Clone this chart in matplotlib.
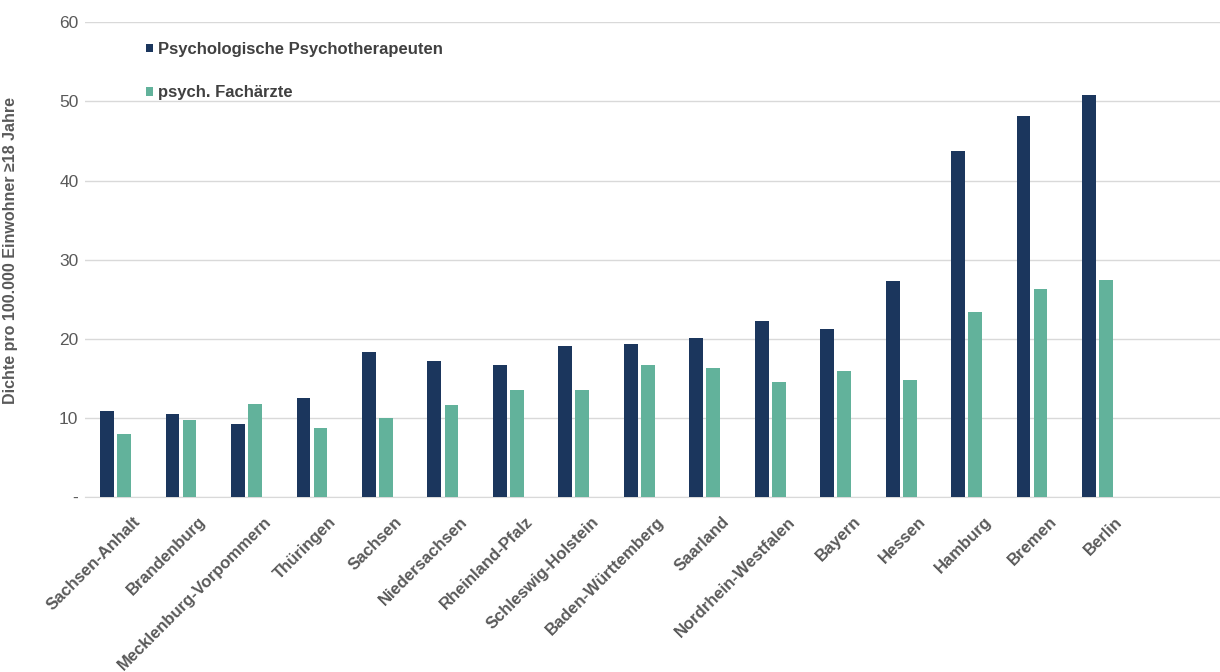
import matplotlib.pyplot as plt
import matplotlib.transforms as mtransforms
import numpy as np

plt.rcParams['font.family'] = ['Liberation Sans', 'DejaVu Sans']

laender = ['Sachsen-Anhalt', 'Brandenburg', 'Mecklenburg-Vorpommern', 'Thüringen',
           'Sachsen', 'Niedersachsen', 'Rheinland-Pfalz', 'Schleswig-Holstein',
           'Baden-Württemberg', 'Saarland', 'Nordrhein-Westfalen', 'Bayern',
           'Hessen', 'Hamburg', 'Bremen', 'Berlin']
psychotherapeuten = [10.9, 10.5, 9.3, 12.6, 18.3, 17.2, 16.7, 19.1,
                     19.4, 20.1, 22.2, 21.2, 27.3, 43.7, 48.2, 50.8]
fachaerzte = [8.0, 9.7, 11.8, 8.8, 10.0, 11.6, 13.5, 13.5,
              16.7, 16.3, 14.6, 15.9, 14.8, 23.4, 26.3, 27.5]
yticks = [0, 10, 20, 30, 40, 50, 60]
ytick_labels = ['-', '10', '20', '30', '40', '50', '60']

dark = '#1b365d'
green = '#62b29b'
grey = '#595959'

fig = plt.figure(figsize=(12.2, 6.72), dpi=100)
ax = fig.add_axes([0.07, 0.26, 0.93, 0.707])

x = np.arange(len(laender))
w = 0.21
ax.bar(x - w / 2 - 0.025, psychotherapeuten, w, color=dark,
       label='Psychologische Psychotherapeuten', zorder=3)
ax.bar(x + w / 2 + 0.025, fachaerzte, w, color=green,
       label='psych. Fachärzte', zorder=3)

ax.set_ylim(0, 60)
ax.set_xlim(-0.46, 16.87)
ax.set_yticks(yticks)
ax.set_yticklabels(ytick_labels, color=grey, fontsize=12.5)
ax.set_xticks(x)
ax.set_xticklabels(laender, rotation=45, ha='right', rotation_mode='anchor',
                   color=grey, fontsize=12, fontweight='bold')
ax.tick_params(axis='y', length=0, pad=5)
ax.tick_params(axis='x', length=0, pad=12)
# Excel puts the rotated labels a bit right of the category centre
shift = mtransforms.ScaledTranslation(0.17, 0, fig.dpi_scale_trans)
for lbl in ax.get_xticklabels():
    lbl.set_transform(lbl.get_transform() + shift)

ax.grid(axis='y', color='#d9d9d9', linewidth=1, zorder=0)
for s in ['top', 'right', 'left']:
    ax.spines[s].set_visible(False)
ax.spines['bottom'].set_color('#d9d9d9')

ax.set_ylabel('Dichte pro 100.000 Einwohner ≥18 Jahre', color=grey,
              fontsize=11.5, fontweight='bold')
ax.yaxis.set_label_coords(-0.059, 0.52)

leg = ax.legend(loc='upper left', bbox_to_anchor=(0.04, 0.99), frameon=False,
                handlelength=0.45, handleheight=0.45, handletextpad=0.3,
                labelspacing=1.7, prop={'weight': 'bold', 'size': 12})
for t in leg.get_texts():
    t.set_color('#404040')

fig.savefig('out.png', dpi=100)
